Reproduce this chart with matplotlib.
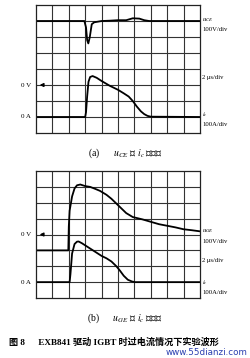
import matplotlib
matplotlib.use("Agg")
import matplotlib.pyplot as plt

plt.rcParams['font.family'] = ['Liberation Serif', 'Noto Sans CJK SC', 'DejaVu Sans']
plt.rcParams['mathtext.fontset'] = 'stix'

# Panel (a): u_CE and i_c (grid divisions)
a_uce_t = [0, 2.95, 3.05, 3.12, 3.19, 3.28, 3.4, 3.55, 4.0, 4.5, 5.0, 5.5, 5.9, 6.3, 6.6, 6.9, 10]
a_uce_v = [7.0, 7.0, 6.6, 5.8, 5.6, 6.0, 6.8, 6.92, 7.0, 7.02, 7.05, 7.05, 7.17, 7.15, 7.05, 7.0, 7.0]
a_ic_t = [0, 3.0, 3.05, 3.12, 3.2, 3.3, 3.45, 3.7, 4.0, 4.5, 5.0, 5.35, 5.65, 5.9, 6.15, 6.4, 6.6, 6.8, 7.0, 10]
a_ic_v = [1.0, 1.0, 1.3, 2.3, 3.2, 3.5, 3.56, 3.45, 3.25, 2.95, 2.7, 2.48, 2.28, 2.0, 1.65, 1.35, 1.18, 1.07, 1.02, 1.0]

# Panel (b): u_GE and i_c
b_uge_t = [0, 1.97, 2.0, 2.05, 2.2, 2.35, 2.5, 2.7, 3.0, 3.3, 3.6, 3.9, 4.3, 4.6, 4.9, 5.2, 5.5, 5.9, 6.5, 7.0, 7.5, 8.0, 8.5, 9.0, 9.5, 10]
b_uge_v = [3.0, 3.0, 4.5, 5.5, 6.4, 6.9, 7.1, 7.15, 7.05, 7.0, 6.88, 6.75, 6.5, 6.25, 5.95, 5.65, 5.35, 5.1, 4.95, 4.8, 4.65, 4.55, 4.45, 4.33, 4.27, 4.2]
b_ic_t = [0, 2.05, 2.1, 2.2, 2.35, 2.5, 2.6, 2.8, 3.1, 3.4, 3.7, 4.0, 4.3, 4.6, 4.9, 5.1, 5.35, 5.6, 5.85, 6.05, 10]
b_ic_v = [1.0, 1.0, 1.5, 2.8, 3.4, 3.55, 3.56, 3.45, 3.25, 3.05, 2.85, 2.65, 2.5, 2.3, 2.0, 1.75, 1.4, 1.15, 1.04, 1.0, 1.0]

fig = plt.figure(figsize=(2.5, 3.58), dpi=100)

def scope(rect, traces, zero_v, right_labels, left_labels):
    ax = fig.add_axes(rect)
    ax.set_xlim(0, 10)
    ax.set_ylim(0, 8)
    for i in range(1, 10):
        ax.axvline(i, color='#333333', lw=0.8)
    for j in range(1, 8):
        ax.axhline(j, color='#333333', lw=0.8)
    for t, v in traces:
        ax.plot(t, v, color='black', lw=1.3, solid_joinstyle='round')
    for s in ax.spines.values():
        s.set_linewidth(0.9)
        s.set_color('#222222')
    ax.set_xticks([])
    ax.set_yticks([])
    ax.annotate('', xy=(0.05, zero_v), xytext=(0.6, zero_v),
                arrowprops=dict(arrowstyle='-|>', color='black', lw=1.0, mutation_scale=5))
    for y, txt in left_labels:
        ax.text(-0.3, y, txt, ha='right', va='center', fontsize=5)
    for y, txt in right_labels:
        ax.text(10.15, y, txt, ha='left', va='center', fontsize=4.8)
    return ax

scope([0.144, 0.6285, 0.656, 0.3575],
      [(a_uce_t, a_uce_v), (a_ic_t, a_ic_v)], 3.0,
      [(7.1, r'$u_{CE}$'), (6.45, '100V/div'), (3.5, '2 μs/div'), (1.15, r'$i_c$'), (0.5, '100A/div')],
      [(3.0, '0 V'), (1.0, '0 A')])

scope([0.144, 0.1676, 0.656, 0.3547],
      [(b_uge_t, b_uge_v), (b_ic_t, b_ic_v)], 4.0,
      [(4.25, r'$u_{GE}$'), (3.55, '100V/div'), (2.35, '2 μs/div'), (0.95, r'$i_c$'), (0.35, '100A/div')],
      [(4.0, '0 V'), (1.0, '0 A')])

fig.text(0.5, 1 - 153/358, r'(a)      $u_{CE}$ 与 $i_c$ 的波形', ha='center', va='center', fontsize=7)
fig.text(0.5, 1 - 318/358, r'(b)      $u_{GE}$ 与 $i_c$ 的波形', ha='center', va='center', fontsize=7)
fig.text(0.035, 1 - 342/358, '图 8      EXB841 驱动 IGBT 时过电流情况下实验波形', ha='left', va='center',
         fontsize=6.6, fontweight='bold')
fig.text(0.99, 1 - 352.5/358, 'www.55dianzi.com', ha='right', va='center', fontsize=6.3,
         color='#2a3fb0', family=['DejaVu Sans'])

fig.savefig('out.png', dpi=100, facecolor='white')
